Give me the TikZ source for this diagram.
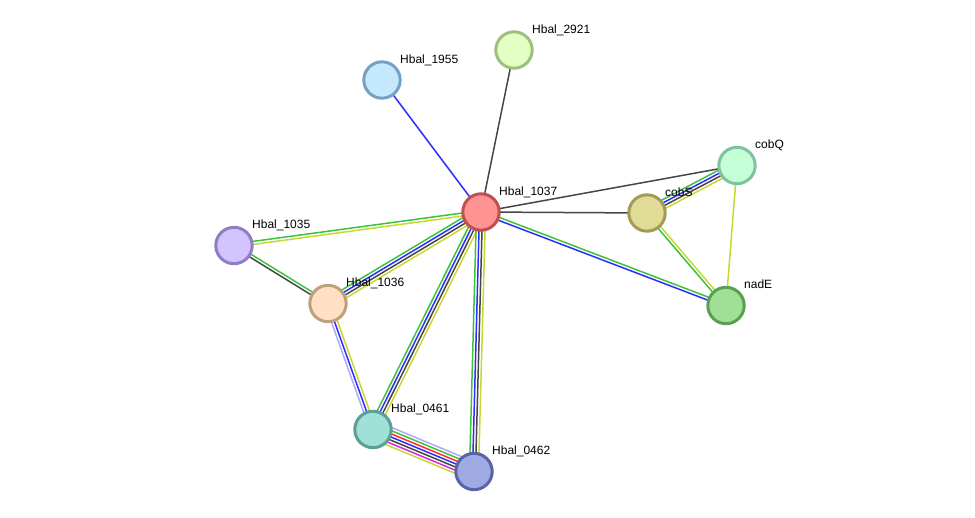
\documentclass[tikz,border=0pt]{standalone}
\usepackage{fontspec}
\setmainfont{Liberation Sans}
\usepackage{tikz}
\usetikzlibrary{calc,backgrounds}

\definecolor{cgreen}{RGB}{60,195,60}
\definecolor{cblue}{RGB}{45,45,255}
\definecolor{cgray}{RGB}{70,70,70}
\definecolor{cyellow}{RGB}{200,215,50}
\definecolor{clav}{RGB}{170,170,255}
\definecolor{cred}{RGB}{255,45,45}
\definecolor{cmag}{RGB}{220,40,220}

% one link = several parallel lines, one per evidence colour
\newcommand{\lnk}[3]{%
  \foreach \c [count=\i] in {#3} {\xdef\nlnk{\i}}
  \foreach \c [count=\i] in {#3} {
    \pgfmathsetmacro{\off}{((\nlnk+1)/2-\i)*3}
    \draw [link, \c] ($(#1)!\off pt!-90:(#2)$) -- ($(#2)!\off pt!90:(#1)$);
  }}

\begin{document}
\begin{tikzpicture}[
    x=1pt,
    y=-1pt,
    prot/.style={
		circle,
		inner sep=0pt,
		minimum size=36.4pt,
		line width=3pt
	},
	lbl/.style={
		anchor=base west,
		inner sep=0pt,
		font=\fontsize{12}{14}\selectfont
	},
	link/.style={
		line width=1.5pt
	}
  ]
\useasboundingbox (0,0) rectangle (975,517);

% proteins
 \node [prot, draw={rgb,255:red,190;green,80;blue,80}, fill={rgb,255:red,255;green,146;blue,146}] (n1037) at (481,212) {};
 \node [prot, draw={rgb,255:red,120;green,160;blue,195}, fill={rgb,255:red,196;green,233;blue,255}] (n1955) at (382,80) {};
 \node [prot, draw={rgb,255:red,160;green,190;blue,125}, fill={rgb,255:red,226;green,255;blue,196}] (n2921) at (514,50) {};
 \node [prot, draw={rgb,255:red,125;green,195;blue,155}, fill={rgb,255:red,196;green,255;blue,216}] (ncobQ) at (737,165.5) {};
 \node [prot, draw={rgb,255:red,160;green,155;blue,85}, fill={rgb,255:red,224;green,220;blue,152}] (ncobS) at (647,213) {};
 \node [prot, draw={rgb,255:red,90;green,160;blue,80}, fill={rgb,255:red,160;green,224;blue,150}] (nnadE) at (726,305.5) {};
 \node [prot, draw={rgb,255:red,145;green,125;blue,195}, fill={rgb,255:red,210;green,196;blue,255}] (n1035) at (234,245.5) {};
 \node [prot, draw={rgb,255:red,190;green,160;blue,125}, fill={rgb,255:red,255;green,224;blue,196}] (n1036) at (328,303.5) {};
 \node [prot, draw={rgb,255:red,90;green,160;blue,150}, fill={rgb,255:red,160;green,224;blue,214}] (n0461) at (373,429.5) {};
 \node [prot, draw={rgb,255:red,90;green,100;blue,165}, fill={rgb,255:red,160;green,170;blue,226}] (n0462) at (474,471.5) {};

% labels
 \node [lbl] (l1037) at ($(n1037)+(18,-17)$) {Hbal\_1037};
 \node [lbl] (l1955) at ($(n1955)+(18,-17)$) {Hbal\_1955};
 \node [lbl] (l2921) at ($(n2921)+(18,-17)$) {Hbal\_2921};
 \node [lbl] (lcobQ) at ($(ncobQ)+(18,-17)$) {cobQ};
 \node [lbl] (lcobS) at ($(ncobS)+(18,-17)$) {cobS};
 \node [lbl] (lnadE) at ($(nnadE)+(18,-17)$) {nadE};
 \node [lbl] (l1035) at ($(n1035)+(18,-17)$) {Hbal\_1035};
 \node [lbl] (l1036) at ($(n1036)+(18,-17)$) {Hbal\_1036};
 \node [lbl] (l0461) at ($(n0461)+(18,-17)$) {Hbal\_0461};
 \node [lbl] (l0462) at ($(n0462)+(18,-17)$) {Hbal\_0462};

% links
\begin{pgfonlayer}{background}
 \lnk{n1955}{n1037}{cblue}
 \lnk{n2921}{n1037}{cgray}
 \lnk{ncobQ}{n1037}{cgray}
 \lnk{ncobS}{n1037}{cgray}
 \lnk{nnadE}{n1037}{cgreen,cblue}
 \lnk{n1037}{n1035}{cgreen,cyellow}
 \lnk{n1037}{n1036}{cgreen,cblue,cgray,cyellow}
 \lnk{n1037}{n0461}{cgreen,cblue,cgray,cyellow}
 \lnk{n1037}{n0462}{cgreen,cblue,cgray,cyellow}
 \lnk{n1036}{n1035}{cgreen,cgray}
 \lnk{n1036}{n0461}{clav,cblue,cyellow}
 \lnk{n0462}{n0461}{clav,cgreen,cred,cblue,cgray,cmag,cyellow}
 \lnk{ncobQ}{ncobS}{cgreen,cblue,cgray,cyellow}
 \lnk{ncobS}{nnadE}{cgreen,cyellow}
 \lnk{ncobQ}{nnadE}{cyellow}
\end{pgfonlayer}

\end{tikzpicture}
\end{document}
